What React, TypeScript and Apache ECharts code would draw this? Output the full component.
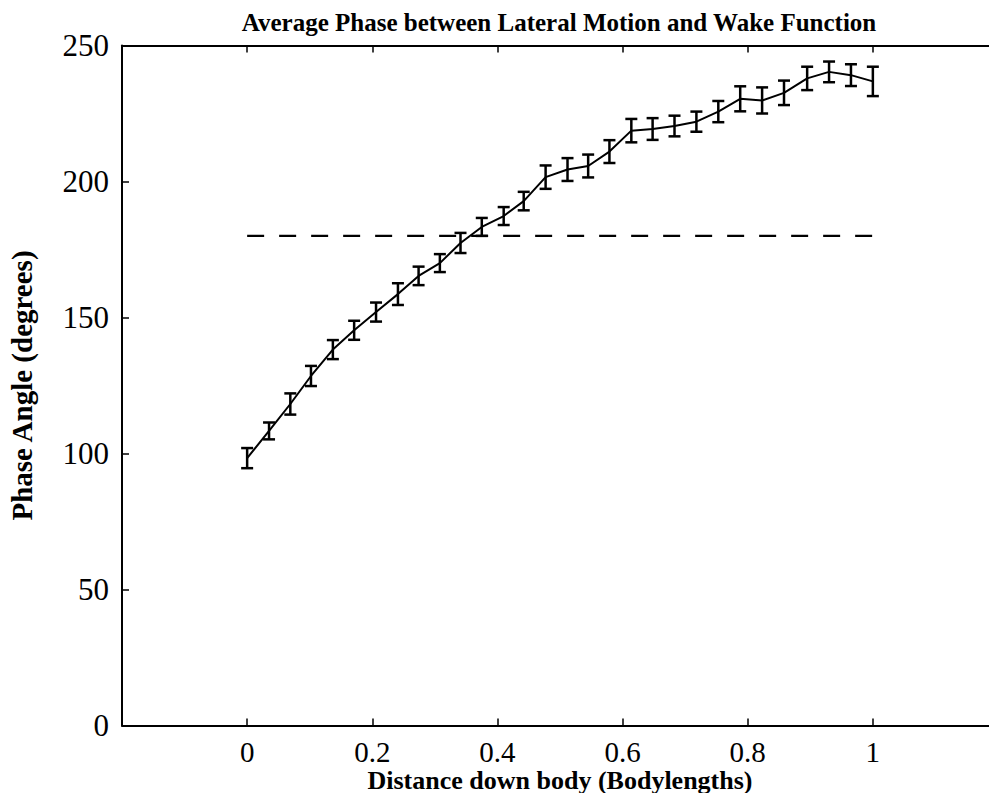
import React, { useEffect, useRef } from "react";
import * as echarts from "echarts";

const distances = [
  0, 0.035, 0.069, 0.102, 0.137, 0.171, 0.206, 0.241, 0.274, 0.308,
  0.341, 0.375, 0.41, 0.442, 0.477, 0.512, 0.545, 0.579, 0.614, 0.648,
  0.683, 0.718, 0.753, 0.788, 0.823, 0.858, 0.895, 0.93, 0.965, 1.0,
];
const phaseMean = [
  98.3, 108.3, 118.2, 128.5, 138.2, 145.3, 152.0, 158.6, 165.3, 170.0,
  177.4, 183.3, 187.3, 192.8, 201.6, 204.4, 205.7, 211.0, 218.7, 219.3,
  220.4, 222.0, 225.7, 230.4, 229.8, 232.6, 237.9, 240.3, 239.1, 236.8,
];
const phaseErr = [
  3.7, 3.1, 3.9, 3.7, 3.5, 3.5, 3.5, 4.0, 3.4, 3.3,
  3.7, 3.3, 3.3, 3.4, 4.3, 4.2, 4.2, 4.2, 4.3, 4.0,
  3.8, 3.7, 3.9, 4.6, 4.8, 4.5, 4.3, 3.8, 4.0, 5.4,
];
const refLineX = [0, 1];
const refLineY = [180, 180];
const xTicks = [0, 0.2, 0.4, 0.6, 0.8, 1];

const TITLE = "Average Phase between Lateral Motion and Wake Function";
const X_NAME = "Distance down body (Bodylengths)";
const Y_NAME = "Phase Angle (degrees)";
const FONT = "'Liberation Serif', 'Times New Roman', serif";

export default function App() {
  const ref = useRef<HTMLDivElement>(null);
  useEffect(() => {
    if (!ref.current) return;
    const chart = echarts.init(ref.current, null, { renderer: "svg" });
    const lineData = distances.map((d, i) => [d, phaseMean[i]]);
    const errData = distances.map((d, i) => [d, phaseMean[i] - phaseErr[i], phaseMean[i] + phaseErr[i]]);
    const refData = refLineX.map((d, i) => [d, refLineY[i]]);
    const labelFmt = (v: number) => {
      const r = Math.round(v * 10) / 10;
      return xTicks.some((t) => Math.abs(t - v) < 1e-6) ? String(r) : "";
    };
    const tickStyle = { show: true, inside: true, length: 7, lineStyle: { color: "#000", width: 1.5 } };
    chart.setOption({
      animation: false,
      backgroundColor: "#ffffff",
      textStyle: { fontFamily: FONT, color: "#000" },
      graphic: [
        {
          type: "text",
          x: 559,
          y: 22,
          style: {
            text: TITLE,
            fill: "#000",
            font: `bold 25px ${FONT}`,
            textAlign: "center",
            textVerticalAlign: "middle",
          },
        },
        {
          type: "text",
          x: 560,
          y: 780,
          style: {
            text: X_NAME,
            fill: "#000",
            font: `bold 26px ${FONT}`,
            lineHeight: 22,
            textAlign: "center",
            textVerticalAlign: "middle",
          },
        },
      ],
      grid: {
        left: 122,
        top: 45.5,
        width: 876,
        height: 680,
        containLabel: false,
        outerBoundsMode: "none",
      },
      xAxis: [
        {
          type: "value",
          min: -0.2,
          max: 1.2,
          interval: 0.2,
          position: "bottom",
          axisLine: { show: true, onZero: false, lineStyle: { color: "#000", width: 2 } },
          axisTick: tickStyle,
          axisLabel: {
            fontFamily: FONT,
            fontSize: 29,
            lineHeight: 22,
            color: "#000",
            margin: 15,
            formatter: labelFmt,
            showMinLabel: false,
            showMaxLabel: false,
          },
          splitLine: { show: false },
        },
        {
          type: "value",
          min: -0.2,
          max: 1.2,
          interval: 0.2,
          position: "top",
          axisLine: { show: true, onZero: false, lineStyle: { color: "#000", width: 2 } },
          axisTick: tickStyle,
          axisLabel: { show: false },
          splitLine: { show: false },
        },
      ],
      yAxis: {
        type: "value",
        min: 0,
        max: 250,
        interval: 50,
        position: "left",
        name: Y_NAME,
        nameLocation: "middle",
        nameGap: 86,
        nameRotate: 90,
        nameTextStyle: { fontFamily: FONT, fontWeight: "bold", fontSize: 29, color: "#000" },
        axisLine: { show: true, onZero: false, lineStyle: { color: "#000", width: 2 } },
        axisTick: tickStyle,
        axisLabel: { fontFamily: FONT, fontSize: 31, color: "#000", margin: 13 },
        splitLine: { show: false },
      },
      series: [
        {
          type: "line",
          data: refData,
          symbol: "none",
          silent: true,
          lineStyle: { color: "#000", width: 2.2, type: [17, 15] },
        },
        {
          type: "line",
          data: lineData,
          symbol: "none",
          silent: true,
          lineStyle: { color: "#000", width: 2 },
        },
        {
          type: "custom",
          data: errData,
          silent: true,
          renderItem: (params: any, api: any) => {
            const x = api.value(0);
            const lo = api.coord([x, api.value(1)]);
            const hi = api.coord([x, api.value(2)]);
            const w = 6;
            const style = { stroke: "#000", lineWidth: 2.5 };
            return {
              type: "group",
              children: [
                { type: "line", shape: { x1: lo[0], y1: lo[1], x2: hi[0], y2: hi[1] }, style },
                { type: "line", shape: { x1: lo[0] - w, y1: lo[1], x2: lo[0] + w, y2: lo[1] }, style },
                { type: "line", shape: { x1: hi[0] - w, y1: hi[1], x2: hi[0] + w, y2: hi[1] }, style },
              ],
            };
          },
        },
      ],
    });
    return () => chart.dispose();
  }, []);
  return (
    <div
      ref={ref}
      style={{ position: "fixed", left: 0, top: 0, width: 989, height: 793, background: "#fff" }}
    />
  );
}
